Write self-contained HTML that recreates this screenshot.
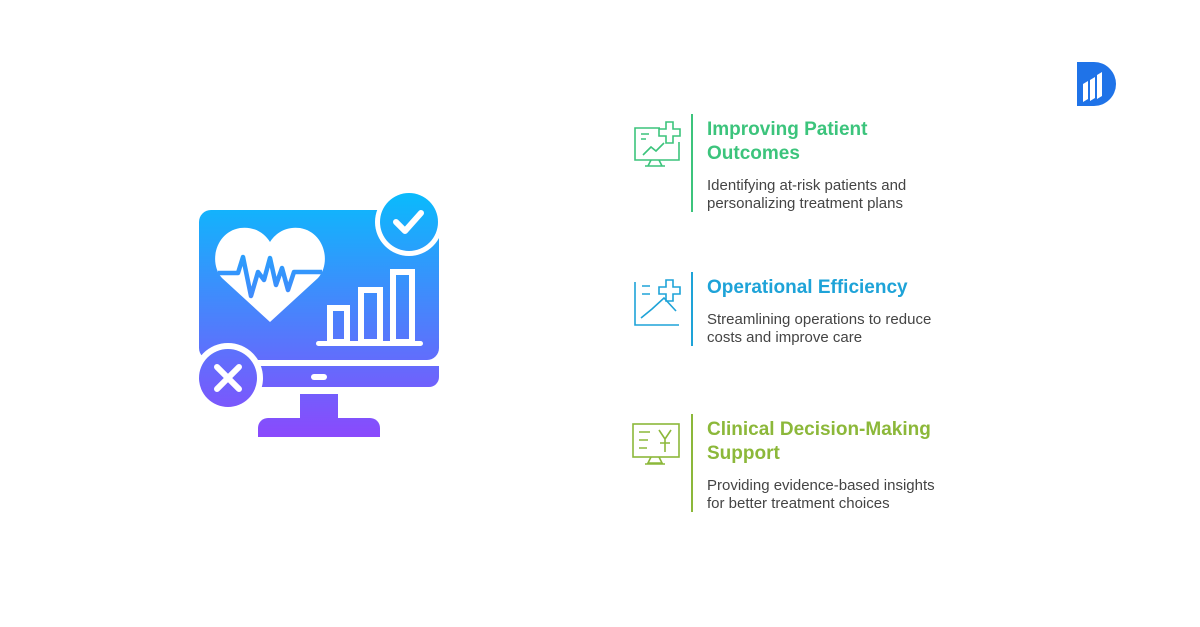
<!DOCTYPE html>
<html><head><meta charset="utf-8"><style>
body{margin:0;width:1200px;height:627px;background:#fff;position:relative;overflow:hidden;font-family:"Liberation Sans",sans-serif}
.t{position:absolute;left:707px;font-weight:bold;font-size:19px;line-height:24px}
.d{position:absolute;left:707px;font-size:15px;line-height:18px;color:#444}
.v{position:absolute;left:691px;width:2px}
</style></head><body>
<svg width="1200" height="627" style="position:absolute;left:0;top:0">
<defs><linearGradient id="g" x1="0" y1="190" x2="0" y2="440" gradientUnits="userSpaceOnUse">
<stop offset="0" stop-color="#08bcfc"/><stop offset="1" stop-color="#8c48fc"/></linearGradient></defs>
<g fill="url(#g)">
<rect x="199" y="210" width="240" height="150" rx="12"/>
<path d="M199 366 H439 V377 a10 10 0 0 1 -10 10 H209 a10 10 0 0 1 -10 -10Z"/>
<rect x="300" y="394" width="38" height="26"/>
<path d="M258 437 V428 a10 10 0 0 1 10 -10 H370 a10 10 0 0 1 10 10 V437Z"/>
<circle cx="409" cy="222" r="34" fill="#fff"/>
<circle cx="409" cy="222" r="29"/>
<circle cx="228" cy="378" r="35" fill="#fff"/>
<circle cx="228" cy="378" r="29"/>
</g>
<rect x="311" y="374" width="16" height="6" rx="3" fill="#fff"/>
<path d="M396 222 l9 9 l16 -18" stroke="#fff" stroke-width="6" fill="none" stroke-linecap="round" stroke-linejoin="round"/>
<path d="M217 367 l22 22 M239 367 l-22 22" stroke="#fff" stroke-width="6" stroke-linecap="round"/>
<path d="M270 322 L222 278 C208 262 216 232 240 228 C255 226 265 234 270 242 C275 234 285 226 300 228 C324 232 332 262 318 278Z" fill="#fff"/>
<path d="M218 273 H238 L243 257 L251 296 L258 272 L264 280 L270 258 L276 285 L282 268 L288 290 L294 272 H322" stroke="url(#g)" stroke-width="4.5" fill="none" stroke-linejoin="round"/>
<g fill="none" stroke="#fff" stroke-width="6">
<rect x="330" y="308" width="17" height="34"/><rect x="361" y="290" width="19" height="52"/><rect x="393" y="272" width="19" height="70"/>
</g>
<rect x="316" y="341" width="107" height="5" rx="2.5" fill="#fff"/>
<g fill="none" stroke="#3cc47c" stroke-width="1.6">
<path d="M660 128 H635 V160 H679 V142"/><path d="M666 122 h7 v7 h7 v7 h-7 v7 h-7 v-7 h-7 v-7 h7z"/>
<path d="M641 134 h8 M641 139 h5 M643 155 l8 -8 l5 4 l8 -8"/><path d="M651 160 l-3 6 h14 l-3 -6 M645 166 h20"/>
</g>
<g fill="none" stroke="#1ea3d8" stroke-width="1.6">
<path d="M635 282 V325 H679"/><path d="M666 280 h7 v7 h7 v7 h-7 v7 h-7 v-7 h-7 v-7 h7z"/>
<path d="M642 286 h8 M642 294 h8 M641 318 l11 -9 l12 -11 l12 13"/>
</g>
<g fill="none" stroke="#8cb83a" stroke-width="1.6">
<rect x="633" y="424" width="46" height="33"/><path d="M639 432 h11 M639 440 h9 M639 448 h8"/>
<path d="M659 430 l6 9 l6 -9 M665 439 v13 M660 443 h10"/><path d="M651 457 l-3 6 h14 l-3 -6 M645 464 h20"/>
</g>
<path d="M1077 62 H1094 a22 22 0 0 1 0 44 H1077Z" fill="#1f73e8"/>
<g fill="#fff"><path d="M1083 84 l5 -3 v18 l-5 3z M1090 80 l5 -3 v21 l-5 3z M1097 75 l5 -3 v24 l-5 3z"/></g>
</svg>
<div class="v" style="top:114px;height:98px;background:#3cc47c"></div>
<div class="v" style="top:272px;height:74px;background:#1ea3d8"></div>
<div class="v" style="top:414px;height:98px;background:#8cb83a"></div>
<div class="t" style="top:118px;color:#3cc47c">Improving Patient<br>Outcomes</div>
<div class="d" style="top:177px">Identifying at-risk patients and<br>personalizing treatment plans</div>
<div class="t" style="top:276px;color:#1ea3d8">Operational Efficiency</div>
<div class="d" style="top:311px">Streamlining operations to reduce<br>costs and improve care</div>
<div class="t" style="top:418px;color:#8cb83a">Clinical Decision-Making<br>Support</div>
<div class="d" style="top:477px">Providing evidence-based insights<br>for better treatment choices</div>
</body></html>
